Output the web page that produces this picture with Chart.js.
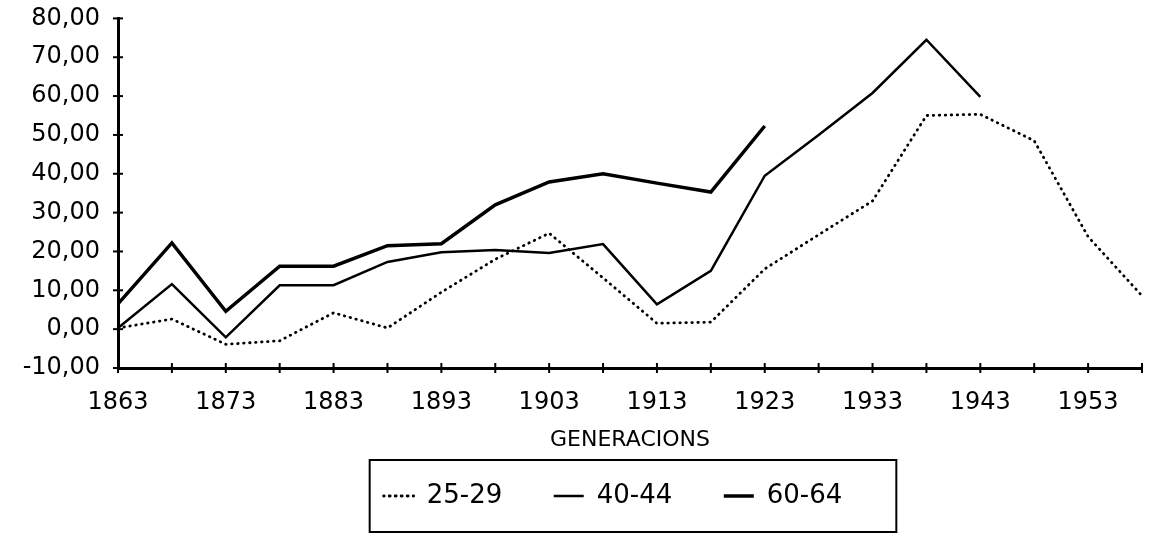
<!DOCTYPE html>
<html>
<head>
<meta charset="utf-8">
<script src="https://cdn.jsdelivr.net/npm/chart.js@4/dist/chart.umd.min.js"></script>
<style>
  html, body { margin: 0; padding: 0; background: #fff; }
  canvas { display: block; }
</style>
</head>
<body>
<canvas id="c" width="1154" height="536"></canvas>
<script>
// ---- data ----
const years = [1863, 1868, 1873, 1878, 1883, 1888, 1893, 1898, 1903, 1908,
               1913, 1918, 1923, 1928, 1933, 1938, 1943, 1948, 1953, 1958];
const yearLabels = years.map(String);
const series2529 = [0.3, 2.6, -3.9, -3.0, 4.2, 0.3, 9.5, 18.0, 24.7, 13.2,
                    1.5, 1.8, 15.5, 24.3, 33.0, 55.0, 55.3, 48.5, 23.8, 8.6];
const series4044 = [0.3, 11.6, -2.1, 11.3, 11.3, 17.3, 19.8, 20.4, 19.6, 21.9,
                    6.4, 15.0, 39.5, 50.0, 60.8, 74.5, 59.8, null, null, null];
const series6064 = [6.5, 22.2, 4.6, 16.2, 16.2, 21.5, 22.0, 32.0, 37.9, 40.0,
                    37.6, 35.3, 52.3, null, null, null, null, null, null, null];
const seriesNames = ['25-29', '40-44', '60-64'];
const yTicks = [-10, 0, 10, 20, 30, 40, 50, 60, 70, 80];
const xTitle = 'GENERACIONS';

const FONT = "'DejaVu Sans', 'Liberation Sans', sans-serif";
Chart.defaults.color = '#000';
Chart.defaults.font.family = FONT;

const crossTicks = {
  id: 'crossTicks',
  afterDraw(chart) {
    const {ctx, chartArea} = chart;
    const xs = chart.scales.x, ys = chart.scales.y;
    ctx.save();
    ctx.strokeStyle = '#000';
    ctx.lineWidth = 2;
    xs.ticks.forEach((t, i) => {
      const px = xs.getPixelForTick(i);
      ctx.beginPath();
      ctx.moveTo(px, chartArea.bottom - 5);
      ctx.lineTo(px, chartArea.bottom + 5);
      ctx.stroke();
    });
    ys.ticks.forEach((t, i) => {
      const py = ys.getPixelForTick(i);
      ctx.beginPath();
      ctx.moveTo(chartArea.left - 5, py);
      ctx.lineTo(chartArea.left + 5, py);
      ctx.stroke();
    });
    ctx.restore();
  }
};

// nudge the legend row slightly left (as in the original), then box it
const legendBox = {
  id: 'legendBox',
  afterLayout(chart) {
    const lg = chart.legend;
    if (!lg) return;
    lg.left -= 17;
    lg.right -= 17;
  },
  afterDraw(chart) {
    const lg = chart.legend;
    if (!lg || !lg.legendHitBoxes || !lg.legendHitBoxes.length) return;
    const hb = lg.legendHitBoxes;
    const first = hb[0], last = hb[hb.length - 1];
    const cy = first.top + first.height / 2;
    const ctx = chart.ctx;
    ctx.save();
    ctx.strokeStyle = '#000';
    ctx.lineWidth = 2;
    const l = first.left - 14, r = last.left + last.width + 54;
    ctx.strokeRect(l, cy - 36, r - l, 72);
    ctx.restore();
  }
};

new Chart(document.getElementById('c'), {
  type: 'line',
  data: {
    labels: yearLabels,
    datasets: [
      { label: seriesNames[0], data: series2529, borderColor: '#000', backgroundColor: '#000',
        borderWidth: 2.8, borderDash: [0.5, 5.5], borderCapStyle: 'round',
        pointRadius: 0, tension: 0, spanGaps: false },
      { label: seriesNames[1], data: series4044, borderColor: '#000', backgroundColor: '#000',
        borderWidth: 2.5, pointRadius: 0, tension: 0, spanGaps: false },
      { label: seriesNames[2], data: series6064, borderColor: '#000', backgroundColor: '#000',
        borderWidth: 3.5, pointRadius: 0, tension: 0, spanGaps: false }
    ]
  },
  options: {
    responsive: false,
    animation: false,
    devicePixelRatio: 1,
    layout: { padding: { top: 2, right: 0, bottom: 17, left: 0 } },
    plugins: {
      tooltip: { enabled: false },
      legend: {
        position: 'bottom',
        fullSize: false,
        labels: {
          usePointStyle: false,
          boxWidth: 30,
          boxHeight: 0,
          padding: 51.5,
          font: { size: 26, family: FONT },
          color: '#000'
        }
      }
    },
    scales: {
      x: {
        type: 'category',
        offset: false,
        grid: { display: false },
        border: { display: true, color: '#000', width: 3 },
        ticks: {
          autoSkip: false,
          maxRotation: 0,
          minRotation: 0,
          padding: 12,
          font: { size: 24, family: FONT },
          color: '#000',
          callback: function(v, i) { return i % 2 === 0 ? this.getLabelForValue(v) : ''; }
        },
        title: {
          display: true,
          text: xTitle,
          font: { size: 22, family: FONT },
          color: '#000',
          padding: { top: 0, bottom: -21.7 }
        },
        afterFit(scale) { scale.height = 63.5; }
      },
      y: {
        min: -10,
        max: 80,
        afterBuildTicks(scale) { scale.ticks = yTicks.map(v => ({ value: v })); },
        grid: { display: false },
        border: { display: true, color: '#000', width: 3 },
        ticks: {
          padding: 10,
          font: { size: 24, family: FONT, lineHeight: 0.7 },
          color: '#000',
          callback: v => Number(v).toFixed(2).replace('.', ',')
        },
        afterFit(scale) { scale.width = 118; }
      }
    }
  },
  plugins: [crossTicks, legendBox]
});
</script>
</body>
</html>
